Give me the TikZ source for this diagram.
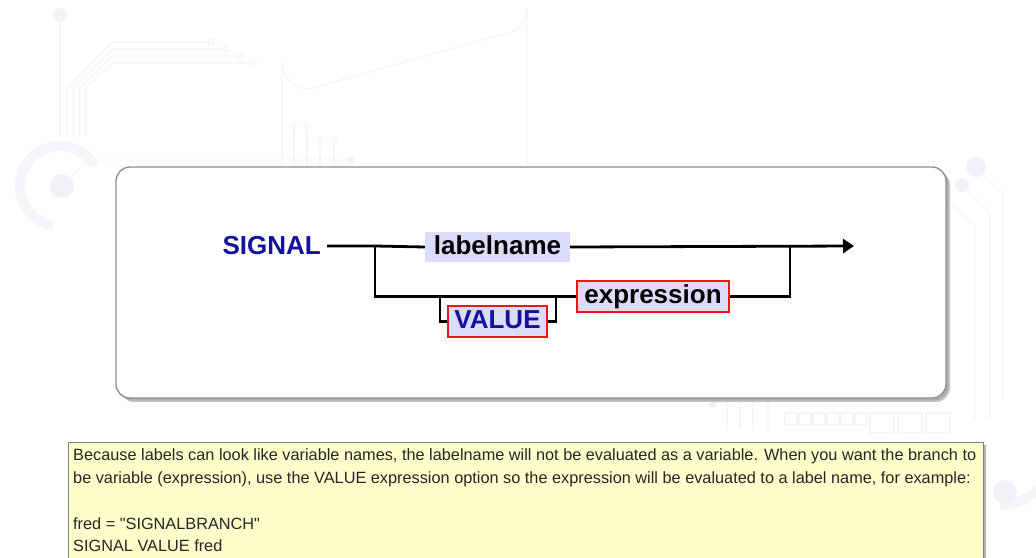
\documentclass[tikz,border=0pt]{standalone}
\usepackage{fontspec}
\setmainfont{Liberation Sans}
% a family without TeX ligature mapping, so that " stays a straight quote
\newfontfamily\plainsans{Liberation Sans}
\usetikzlibrary{arrows.meta}

\definecolor{kwblue}{RGB}{18,18,158}
\definecolor{termfill}{RGB}{220,220,250}
\definecolor{boxred}{RGB}{236,24,24}
\definecolor{notefill}{RGB}{255,255,204}
\definecolor{decor}{RGB}{244,245,248}
\definecolor{decorfill}{RGB}{240,241,247}

\tikzset{
  bigfont/.style={font=\fontsize{26}{30}\selectfont\bfseries},
  keyword/.style={bigfont, text=kwblue, inner sep=2pt},
  term/.style={bigfont, fill=termfill, inner sep=0pt, minimum height=30,
               text height=19, text depth=5},
  boxed/.style={term, draw=boxred, line width=1.8},
  conn/.style={draw=black, line width=2.8},
  decoline/.style={draw=decor, line width=1.4},
  notetext/.style={font=\plainsans\fontsize{16.3}{23}\selectfont, text=black!85,
                   inner sep=0pt, anchor=base west},
}

\begin{document}
\begin{tikzpicture}[x=1pt,y=-1pt]
\useasboundingbox (0,0) rectangle (1036,557);

% faint circuit-board backdrop
\fill[decorfill] (60,15) circle (7);
\draw[decoline] (60,15) -- (60,135);
\foreach \dy/\ex in {0/208,7/222,14/236,21/250}{
  \draw[decoline] (67+\dy*0.9,135) -- (67+\dy*0.9,88) -- (112,42+\dy) -- (\ex,42+\dy);
  \draw[decoline] (\ex+3,42+\dy) circle (3);
}
\draw[decor, line width=10] (60,186) ++(100:40) arc[start angle=100, end angle=330, radius=40];
\fill[decorfill] (62,186) circle (12);
\draw[decoline] (62,186) -- (88,160) -- (348,160);
\fill[decorfill] (350,160) circle (4);
\draw[decoline] (282,165) -- (282,62) arc[start angle=180, end angle=90, radius=27] -- (500,35)
  arc[start angle=90, end angle=0, radius=27] -- (527,165);
\foreach \x/\y in {294/126,307/126,320/139,334/139}{
  \draw[decoline] (\x,\y) circle (2.5);
  \draw[decoline] (\x,\y+3) -- (\x,166);
}
\fill[decorfill] (976,167) circle (10);
\fill[decorfill] (962,185) circle (7);
\draw[decoline] (976,167) -- (1003,194) -- (1003,400);
\draw[decoline] (962,185) -- (990,213) -- (990,420);
\draw[decoline] (948,200) -- (975,227) -- (975,420);
\draw[decor, line width=10] (1000,450) ++(90:55) arc[start angle=90, end angle=-40, radius=55];
\fill[decorfill] (1005,492) circle (12);
\foreach \i in {0,...,5}{
  \draw[decoline] (785+\i*14,413) rectangle ++(12,12);
}
\foreach \i in {0,...,2}{
  \draw[decoline] (870+\i*28,413) rectangle ++(24,20);
}
\fill[decorfill] (713,404) circle (4);
\foreach \x in {727,740,753,768}{
  \draw[decoline] (\x,400) -- (\x,430);
}

% diagram panel with its drop shadow
\fill[black!22, rounded corners=14] (120,171) rectangle (950,402);
\fill[black!32, rounded corners=14] (118.5,169.5) rectangle (948.5,400.5);
\filldraw[fill=white, draw=black!45, line width=1.3, rounded corners=14]
  (116,167) rectangle (946,398);

% note panel
\fill[black!30] (71,445) rectangle (986,570);
\filldraw[fill=notefill, draw=black!50, line width=1] (68,442) rectangle (983,570);

% syntax diagram
\node[keyword, anchor=east] (signal) at (323,246) {SIGNAL};
\node[term, minimum width=145] (labelname) at (497.5,247) {labelname};
\node[boxed, minimum width=99, minimum height=31, text=kwblue] (value) at (497.5,321.5) {VALUE};
\node[boxed, minimum width=152, minimum height=31] (expr) at (653,296.5) {expression};

\coordinate (split) at (375,246);
\coordinate (join) at (790,246);
\coordinate (exit) at (854,246);
\coordinate (optin) at (440,297);
\coordinate (optout) at (556,297);

\draw[conn] (signal.east) ++(4,0) -- (split) -- (labelname.west);
\draw[conn, -{Triangle[length=11, width=14]}] (labelname.east) -- (exit);
\draw[conn] (split) |- (expr.west);
\draw[conn] (expr.east) -| (join);
\draw[conn] (optin) |- (value.west);
\draw[conn] (value.east) -| (optout);

% explanatory note
\node[notetext] (note1) at (73,460) {Because labels can look like variable names, the labelname will not be evaluated as a variable. When you want the branch to};
\node[notetext] (note2) at (73,483) {be variable (expression), use the VALUE expression option so the expression will be evaluated to a label name, for example:};
\node[notetext] (note3) at (73,529) {fred = "SIGNALBRANCH"};
\node[notetext] (note4) at (73,551) {SIGNAL VALUE fred};
\end{tikzpicture}
\end{document}
